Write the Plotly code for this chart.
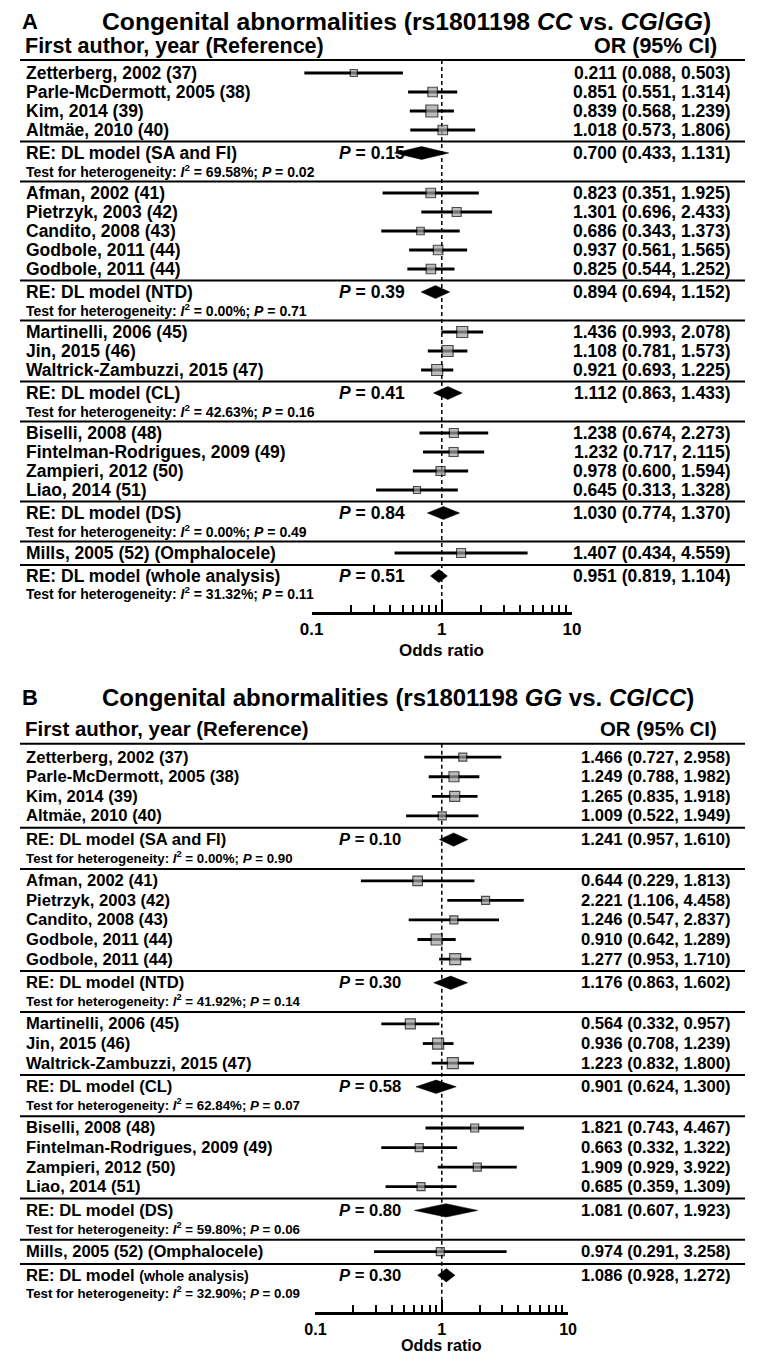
import numpy as np
import plotly.graph_objects as go

# page size; the html body keeps its default 8px margin, so the figure is
# drawn 8px in from every edge and all positions below are page pixels
W, H = 762, 1361
OFF = 8
FIG_W, FIG_H = W - 2 * OFF, H - 2 * OFF

# ----------------
# DATA
# ----------------
studies = ["Zetterberg, 2002 (37)", "Parle-McDermott, 2005 (38)", "Kim, 2014 (39)", "Altmäe, 2010 (40)",
           "Afman, 2002 (41)", "Pietrzyk, 2003 (42)", "Candito, 2008 (43)", "Godbole, 2011 (44)",
           "Godbole, 2011 (44)", "Martinelli, 2006 (45)", "Jin, 2015 (46)", "Waltrick-Zambuzzi, 2015 (47)",
           "Biselli, 2008 (48)", "Fintelman-Rodrigues, 2009 (49)", "Zampieri, 2012 (50)", "Liao, 2014 (51)",
           "Mills, 2005 (52) (Omphalocele)"]
group_sizes = [4, 5, 3, 4, 1]
group_names = ["SA and FI", "NTD", "CL", "DS", None]   # None = single study, no pooled row
pooled_names = ["SA and FI", "NTD", "CL", "DS", "whole analysis"]

# panel A: CC vs CG/GG
or_a = [0.211, 0.851, 0.839, 1.018, 0.823, 1.301, 0.686, 0.937, 0.825, 1.436, 1.108, 0.921,
        1.238, 1.232, 0.978, 0.645, 1.407]
lo_a = [0.088, 0.551, 0.568, 0.573, 0.351, 0.696, 0.343, 0.561, 0.544, 0.993, 0.781, 0.693,
        0.674, 0.717, 0.600, 0.313, 0.434]
hi_a = [0.503, 1.314, 1.239, 1.806, 1.925, 2.433, 1.373, 1.565, 1.252, 2.078, 1.573, 1.225,
        2.273, 2.115, 1.594, 1.328, 4.559]
box_a = [7, 9.5, 12, 9.5, 9.5, 9, 7.5, 9.5, 9.5, 11, 11, 11, 9, 9, 9, 7, 9]
pool_or_a = [0.700, 0.894, 1.112, 1.030, 0.951]
pool_lo_a = [0.433, 0.694, 0.863, 0.774, 0.819]
pool_hi_a = [1.131, 1.152, 1.433, 1.370, 1.104]
pool_p_a = ["0.15", "0.39", "0.41", "0.84", "0.51"]
het_i2_a = ["69.58", "0.00", "42.63", "0.00", "31.32"]
het_p_a = ["0.02", "0.71", "0.16", "0.49", "0.11"]

# panel B: GG vs CG/CC
or_b = [1.466, 1.249, 1.265, 1.009, 0.644, 2.221, 1.246, 0.910, 1.277, 0.564, 0.936, 1.223,
        1.821, 0.663, 1.909, 0.685, 0.974]
lo_b = [0.727, 0.788, 0.835, 0.522, 0.229, 1.106, 0.547, 0.642, 0.953, 0.332, 0.708, 0.832,
        0.743, 0.332, 0.929, 0.359, 0.291]
hi_b = [2.958, 1.982, 1.918, 1.949, 1.813, 4.458, 2.837, 1.289, 1.710, 0.957, 1.239, 1.800,
        4.467, 1.322, 3.922, 1.309, 3.258]
box_b = [8, 10, 10, 8, 9.5, 8, 8, 11, 11, 10, 11, 11, 8, 8, 8, 8, 8]
pool_or_b = [1.241, 1.176, 0.901, 1.081, 1.086]
pool_lo_b = [0.957, 0.863, 0.624, 0.607, 0.928]
pool_hi_b = [1.610, 1.602, 1.300, 1.923, 1.272]
pool_p_b = ["0.10", "0.30", "0.58", "0.80", "0.30"]
het_i2_b = ["0.00", "41.92", "62.84", "59.80", "32.90"]
het_p_b = ["0.90", "0.14", "0.07", "0.06", "0.09"]

axis_ticks = [0.1, 1, 10]
axis_minor = [0.2, 0.3, 0.4, 0.5, 0.6, 0.7, 0.8, 0.9, 2, 3, 4, 5, 6, 7, 8, 9]

# ----------------
# ROW LAYOUT (panel units, ~px)
# ----------------
FIRST_ROW = 73
ROW_STEP = 19
HEADER_LINE = 60
NULL_PX = 442      # page x of OR = 1
DIAMOND_H = 6.5


def row_positions():
    study_y, pooled_y, het_y, sep_y = [], [], [], [HEADER_LINE]
    axis_y = None
    y = FIRST_ROW
    for name, n in zip(group_names, group_sizes):
        for _ in range(n):
            study_y.append(y)
            y += ROW_STEP
        last = y - ROW_STEP
        if name is not None:
            sep_y += [last + 11.5, last + 51.5]
            pooled_y.append(last + 23)
            het_y.append(last + 40.5)
            y = last + 63
        else:
            sep_y.append(last + 12)
            pooled_y.append(last + 23)
            het_y.append(last + 39.5)
            axis_y = last + 59
    return study_y, pooled_y, het_y, sep_y, axis_y


study_y, pooled_y, het_y, sep_y, axis_y = row_positions()


def px_x(px):
    return (px - OFF) / FIG_W


def px_y(py):
    return 1 - (py - OFF) / FIG_H


fig = go.Figure()
annotations = []
shapes = []


def draw_panel(k, letter, title, or_, lo, hi, box, p_or, p_lo, p_hi, p_p, i2, hp,
               top, bottom, scale, decade, family, fsc, title_size, title_y, odds_dy,
               small_whole):
    xa, ya = ("x", "y") if k == 1 else ("x2", "y2")
    axn = k + 2
    xr, yr = f"x{axn}", f"y{axn}"
    lay = {}

    vis_top, vis_bot = max(top, OFF), min(bottom, H - OFF)
    # data axes spanning the full figure width
    lay["xaxis" if k == 1 else "xaxis2"] = dict(
        type="log", domain=[0, 1], anchor=ya, visible=False,
        range=[(OFF - NULL_PX) / decade, (W - OFF - NULL_PX) / decade])
    lay["yaxis" if k == 1 else "yaxis2"] = dict(
        domain=[px_y(vis_bot), px_y(vis_top)],
        range=[(vis_bot - top) / scale, (vis_top - top) / scale],
        visible=False, anchor=xa)

    # visible odds-ratio axis
    ax_px = top + axis_y * scale
    lay[f"xaxis{axn}"] = dict(
        type="log", range=[-1, 1], anchor=yr,
        domain=[px_x(NULL_PX - decade), px_x(NULL_PX + decade)],
        showline=True, linecolor="black", linewidth=3, showgrid=False, zeroline=False,
        ticks="inside", ticklen=12, tickwidth=2, tickcolor="black",
        tickmode="array", tickvals=axis_ticks,
        ticktext=[f"<b>{t:g}</b>" for t in axis_ticks],
        tickfont=dict(family=family, size=17 * fsc, color="black"),
        minor=dict(ticks="inside", ticklen=7, tickwidth=1.5, tickcolor="black",
                   tickmode="array", tickvals=axis_minor, showgrid=False),
        fixedrange=True)
    lay[f"yaxis{axn}"] = dict(domain=[px_y(ax_px), px_y(ax_px) + 0.004],
                              visible=False, range=[0, 1])
    fig.update_layout(**lay)
    fig.add_trace(go.Scatter(x=[1], y=[0.5], xaxis=xr, yaxis=yr, mode="markers",
                             marker=dict(opacity=0), hoverinfo="skip"))

    # null line
    fig.add_trace(go.Scatter(x=[1, 1], y=[HEADER_LINE, axis_y], xaxis=xa, yaxis=ya, mode="lines",
                             line=dict(color="black", width=1.5, dash="4px,3px"), hoverinfo="skip"))

    # CI whiskers
    cx, cy = [], []
    for l, h, y in zip(lo, hi, study_y):
        cx += [l, h, None]
        cy += [y, y, None]
    fig.add_trace(go.Scatter(x=cx, y=cy, xaxis=xa, yaxis=ya, mode="lines",
                             line=dict(color="black", width=2.8), hoverinfo="skip"))

    # study boxes
    fig.add_trace(go.Scatter(x=or_, y=study_y, xaxis=xa, yaxis=ya, mode="markers",
                             marker=dict(symbol="square", size=box, color="#a0a0a0",
                                         line=dict(color="black", width=1.2)), hoverinfo="skip"))

    # pooled diamonds
    dx, dy = [], []
    for e, l, h, y in zip(p_or, p_lo, p_hi, pooled_y):
        dx += [l, e, h, e, l, None]
        dy += [y, y - DIAMOND_H, y, y + DIAMOND_H, y, None]
    fig.add_trace(go.Scatter(x=dx, y=dy, xaxis=xa, yaxis=ya, mode="lines", fill="toself",
                             fillcolor="black", line=dict(color="black", width=0.5), hoverinfo="skip"))

    # separators
    for y in sep_y:
        shapes.append(dict(type="line", xref="paper", yref=ya, x0=0, x1=1, y0=y, y1=y,
                           line=dict(color="black", width=2)))

    def txt(x, y, s, size, anchor="left"):
        annotations.append(dict(xref="paper", yref=ya, x=max(px_x(x), 0), y=y, text=s,
                                showarrow=False, xanchor=anchor, yanchor="middle",
                                font=dict(family=family, size=size, color="black")))

    txt(OFF, title_y, "<b>" + letter + "</b>", 22)
    txt(90, title_y, "<b>" + title + "</b>", title_size)
    txt(11, 46, "<b>First author, year (Reference)</b>", 21.5 * fsc)
    txt(727, 46, "<b>OR (95% CI)</b>", 21.5 * fsc, "right")

    for name, e, l, h, y in zip(studies, or_, lo, hi, study_y):
        txt(12, y, f"<b>{name}</b>", 17.5 * fsc)
        txt(742, y, f"<b>{e:.3f} ({l:.3f}, {h:.3f})</b>", 17.5 * fsc, "right")

    for name, e, l, h, p, q, hq, y, yh in zip(pooled_names, p_or, p_lo, p_hi, p_p, i2, hp,
                                               pooled_y, het_y):
        if name == "whole analysis" and small_whole:
            lab = f'<b>RE: DL model <span style="font-size:{15 * fsc:.1f}px">({name})</span></b>'
        else:
            lab = f"<b>RE: DL model ({name})</b>"
        txt(12, y, lab, 17.5 * fsc)
        txt(334, y, f"<b><i>P</i> = {p}</b>", 17.5 * fsc)
        txt(742, y, f"<b>{e:.3f} ({l:.3f}, {h:.3f})</b>", 17.5 * fsc, "right")
        txt(12, yh, f"<b>Test for heterogeneity: <i>I</i><sup>2</sup> = {q}%; <i>P</i> = {hq}</b>",
            14 * fsc)

    annotations.append(dict(xref=xr, yref=ya, x=0, y=axis_y + odds_dy, text="<b>Odds ratio</b>",
                            showarrow=False, xanchor="center", yanchor="middle",
                            font=dict(family=family, size=17 * fsc, color="black")))


FONT = "Arial, Liberation Sans, sans-serif"

draw_panel(1, "A", "Congenital abnormalities (rs1801198 <i>CC</i> vs. <i>CG</i>/<i>GG</i>)",
           or_a, lo_a, hi_a, box_a, pool_or_a, pool_lo_a, pool_hi_a, pool_p_a, het_i2_a, het_p_a,
           top=0, bottom=682, scale=1.0, decade=134, family=FONT, fsc=1.0, title_size=24.7,
           title_y=21, odds_dy=38, small_whole=False)
draw_panel(2, "B", "Congenital abnormalities (rs1801198 <i>GG</i> vs. <i>CG</i>/<i>CC</i>)",
           or_b, lo_b, hi_b, box_b, pool_or_b, pool_lo_b, pool_hi_b, pool_p_b, het_i2_b, het_p_b,
           top=682, bottom=H, scale=1.03, decade=130, family=FONT, fsc=0.95, title_size=24,
           title_y=15, odds_dy=32, small_whole=True)

fig.update_layout(
    width=FIG_W, height=FIG_H, margin=dict(l=0, r=0, t=0, b=0),
    paper_bgcolor="white", plot_bgcolor="white", showlegend=False,
    annotations=annotations, shapes=shapes,
)

fig.write_html("out.html")
